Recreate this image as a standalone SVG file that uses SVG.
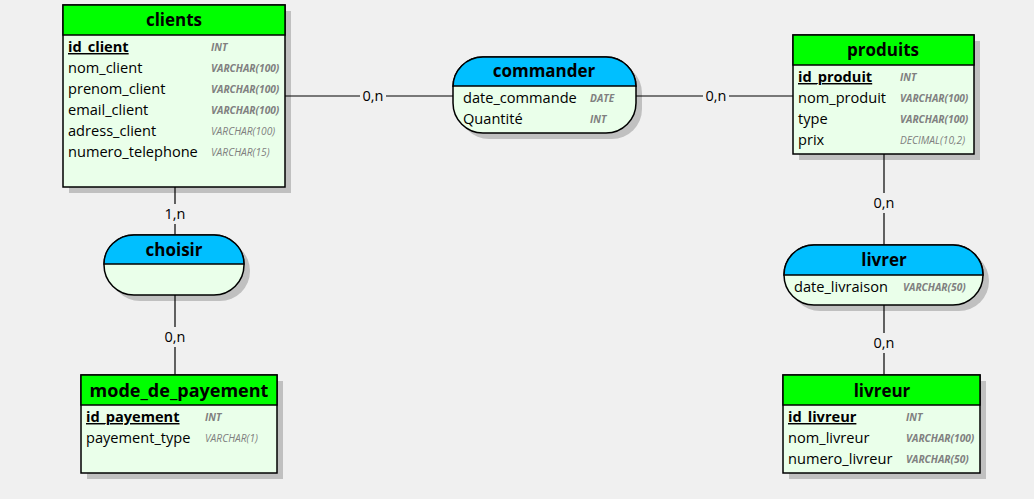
<svg xmlns="http://www.w3.org/2000/svg" width="1034" height="499" viewBox="0 0 1034 499">
<style>
.bg{fill:#f0f0f0}
.sh{fill:#c0c0c0}
.body{fill:#eaffea;stroke:#000;stroke-width:1.5}
.ent{fill:#00ff00;stroke:#000;stroke-width:1.5}
.rel{fill:#00bfff;stroke:#000;stroke-width:1.5}
.title{font-family:"Open Sans","Noto Sans",sans-serif;font-weight:bold;font-size:17px;fill:#000;text-anchor:middle}
.att{font-family:"Open Sans","Noto Sans",sans-serif;font-size:14.6px;fill:#000}
.key{font-weight:bold;text-decoration:underline}
.typ{font-family:"Open Sans","Noto Sans",sans-serif;font-style:italic;font-weight:bold;font-size:10.2px;fill:#808080}
.tl{font-weight:normal}
.ln{stroke:#000;stroke-width:1.2;fill:none}
.card{font-family:"Open Sans","Noto Sans",sans-serif;font-size:14.5px;fill:#000;text-anchor:middle}
.cbg{fill:#f0f0f0}
</style>
<rect class="bg" x="0" y="0" width="1034" height="499"/>
<g id="clients">
<rect class="sh" x="69" y="11" width="222" height="182"/>
<rect class="body" x="63" y="5" width="222" height="182"/>
<rect class="ent" x="63" y="5" width="222" height="30"/>
<text class="title" x="174" y="26">clients</text>
<text class="att key" x="68" y="52">id_client</text><text class="typ" x="211" y="51">INT</text>
<text class="att" x="68" y="73">nom_client</text><text class="typ" x="211" y="72">VARCHAR(100)</text>
<text class="att" x="68" y="94">prenom_client</text><text class="typ" x="211" y="93">VARCHAR(100)</text>
<text class="att" x="68" y="115">email_client</text><text class="typ" x="211" y="114">VARCHAR(100)</text>
<text class="att" x="68" y="136">adress_client</text><text class="typ tl" x="211" y="135">VARCHAR(100)</text>
<text class="att" x="68" y="157">numero_telephone</text><text class="typ tl" x="211" y="156">VARCHAR(15)</text>
</g>
<g id="commander">
<path class="sh" d="M489,63 H612 A30,30 0 0 1 642,93 V109 A30,30 0 0 1 612,139 H489 A30,30 0 0 1 459,109 V93 A30,30 0 0 1 489,63 Z"/>
<path class="body" d="M483,57 H606 A30,30 0 0 1 636,87 V103 A30,30 0 0 1 606,133 H483 A30,30 0 0 1 453,103 V87 A30,30 0 0 1 483,57 Z"/>
<path class="rel" d="M453,86 V87 A30,30 0 0 1 483,57 H606 A30,30 0 0 1 636,87 V86 Z"/>
<text class="title" x="544" y="77">commander</text>
<text class="att" x="463" y="103">date_commande</text><text class="typ" x="590" y="102">DATE</text>
<text class="att" x="463" y="124">Quantité</text><text class="typ" x="590" y="123">INT</text>
</g>
<g id="produits">
<rect class="sh" x="799" y="41" width="181" height="119"/>
<rect class="body" x="793" y="35" width="181" height="119"/>
<rect class="ent" x="793" y="35" width="181" height="30"/>
<text class="title" x="883" y="56">produits</text>
<text class="att key" x="798" y="82">id_produit</text><text class="typ" x="900" y="81">INT</text>
<text class="att" x="798" y="103">nom_produit</text><text class="typ" x="900" y="102">VARCHAR(100)</text>
<text class="att" x="798" y="124">type</text><text class="typ" x="900" y="123">VARCHAR(100)</text>
<text class="att" x="798" y="145">prix</text><text class="typ tl" x="900" y="144">DECIMAL(10,2)</text>
</g>
<g id="choisir">
<rect class="sh" x="110" y="241" width="140" height="60" rx="30"/>
<path class="body" d="M134,235 H214 A30,30 0 0 1 244,265 A30,30 0 0 1 214,295 H134 A30,30 0 0 1 104,265 A30,30 0 0 1 134,235 Z"/>
<path class="rel" d="M104,264 A30,29 0 0 1 134,235 H214 A30,29 0 0 1 244,264 Z"/>
<text class="title" x="174" y="256">choisir</text>
</g>
<g id="mode_de_payement">
<rect class="sh" x="87" y="381" width="196" height="98"/>
<rect class="body" x="81" y="375" width="196" height="98"/>
<rect class="ent" x="81" y="375" width="196" height="30"/>
<text class="title" x="179" y="397" style="font-size:18px">mode_de_payement</text>
<text class="att key" x="86" y="422">id_payement</text><text class="typ" x="205" y="421">INT</text>
<text class="att" x="86" y="443">payement_type</text><text class="typ tl" x="205" y="442">VARCHAR(1)</text>
</g>
<g id="livrer">
<path class="sh" d="M820,251 H959 A30,30 0 0 1 989,281 A30,30 0 0 1 959,311 H820 A30,30 0 0 1 790,281 A30,30 0 0 1 820,251 Z"/>
<path class="body" d="M814,245 H953 A30,30 0 0 1 983,275 A30,30 0 0 1 953,305 H814 A30,30 0 0 1 784,275 A30,30 0 0 1 814,245 Z"/>
<path class="rel" d="M784,275 A30,30 0 0 1 814,245 H953 A30,30 0 0 1 983,275 Z"/>
<text class="title" x="884" y="266">livrer</text>
<text class="att" x="794" y="292">date_livraison</text><text class="typ" x="903" y="291">VARCHAR(50)</text>
</g>
<g id="livreur">
<rect class="sh" x="789" y="381" width="197" height="98"/>
<rect class="body" x="783" y="375" width="197" height="98"/>
<rect class="ent" x="783" y="375" width="197" height="30"/>
<text class="title" x="882" y="397">livreur</text>
<text class="att key" x="788" y="422">id_livreur</text><text class="typ" x="906" y="421">INT</text>
<text class="att" x="788" y="443">nom_livreur</text><text class="typ" x="906" y="442">VARCHAR(100)</text>
<text class="att" x="788" y="464">numero_livreur</text><text class="typ" x="906" y="463">VARCHAR(50)</text>
</g>
<g id="connectors">
<line class="ln" x1="285" y1="96" x2="453" y2="96"/>
<line class="ln" x1="636" y1="96" x2="793" y2="96"/>
<line class="ln" x1="175" y1="187" x2="175" y2="235"/>
<line class="ln" x1="175" y1="295" x2="175" y2="375"/>
<line class="ln" x1="884" y1="154" x2="884" y2="245"/>
<line class="ln" x1="884" y1="305" x2="884" y2="375"/>
<rect class="cbg" x="360" y="86" width="26" height="20"/>
<text class="card" x="373" y="101">0,n</text>
<rect class="cbg" x="703" y="86" width="26" height="20"/>
<text class="card" x="716" y="101">0,n</text>
<rect class="cbg" x="162" y="204" width="26" height="20"/>
<text class="card" x="175" y="219">1,n</text>
<rect class="cbg" x="162" y="327" width="26" height="20"/>
<text class="card" x="175" y="342">0,n</text>
<rect class="cbg" x="871" y="193" width="26" height="20"/>
<text class="card" x="884" y="208">0,n</text>
<rect class="cbg" x="871" y="333" width="26" height="20"/>
<text class="card" x="884" y="348">0,n</text>
</g>
</svg>
